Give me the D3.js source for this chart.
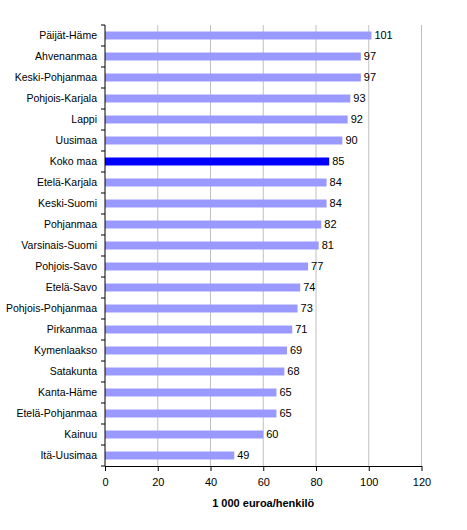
<!DOCTYPE html>
<html>
<head>
<meta charset="utf-8">
<script src="https://cdn.jsdelivr.net/npm/d3@7"></script>
<style>
  body { margin: 0; background: #fff; }
  text { font-family: Arial, "Liberation Sans", sans-serif; }
</style>
</head>
<body>
<script>
// maakunnat, suurimmasta pienimpään
const regions = ['Päijät-Häme','Ahvenanmaa','Keski-Pohjanmaa','Pohjois-Karjala','Lappi','Uusimaa','Koko maa',
  'Etelä-Karjala','Keski-Suomi','Pohjanmaa','Varsinais-Suomi','Pohjois-Savo','Etelä-Savo','Pohjois-Pohjanmaa',
  'Pirkanmaa','Kymenlaakso','Satakunta','Kanta-Häme','Etelä-Pohjanmaa','Kainuu','Itä-Uusimaa'];
const values = [101,97,97,93,92,90,85,84,84,82,81,77,74,73,71,69,68,65,65,60,49];
const xTicks = [0,20,40,60,80,100,120];
const highlight = 'Koko maa';
const axisTitle = '1 000 euroa/henkilö';

const W = 467, H = 530;
const mLeft = 105, mRight = 421.5, mTop = 25, mBottom = 466;

const svg = d3.select('body').append('svg')
  .attr('width', W).attr('height', H);

const x = d3.scaleLinear().domain([0,120]).range([mLeft, mRight]);
const y = d3.scaleBand().domain(regions).range([mTop, mBottom]).paddingInner(0.62).paddingOuter(0.31);

// gridlines
svg.append('g').selectAll('line')
  .data(xTicks.slice(1))
  .join('line')
  .attr('x1', d => x(d)).attr('x2', d => x(d))
  .attr('y1', mTop).attr('y2', mBottom)
  .attr('stroke', '#c0c0c0').attr('stroke-width', 1);

// bars
svg.append('g').selectAll('rect')
  .data(regions)
  .join('rect')
  .attr('x', x(0))
  .attr('y', d => y(d))
  .attr('width', (d,i) => x(values[i]) - x(0))
  .attr('height', y.bandwidth())
  .attr('fill', d => d === highlight ? '#0000ff' : '#9999ff');

// value labels
svg.append('g').selectAll('text')
  .data(regions)
  .join('text')
  .attr('x', (d,i) => x(values[i]) + 3)
  .attr('y', d => y(d) + y.bandwidth()/2)
  .attr('dy', '0.36em')
  .attr('font-size', 11)
  .text((d,i) => values[i]);

// y axis: line, ticks between categories, labels
const step = (mBottom - mTop) / regions.length;
const ya = svg.append('g');
ya.append('line')
  .attr('x1', mLeft).attr('x2', mLeft).attr('y1', mTop).attr('y2', mBottom)
  .attr('stroke', '#000');
ya.selectAll('line.tick')
  .data(d3.range(regions.length + 1))
  .join('line').attr('class','tick')
  .attr('x1', mLeft - 4).attr('x2', mLeft)
  .attr('y1', i => mTop + i*step).attr('y2', i => mTop + i*step)
  .attr('stroke', '#000');
ya.selectAll('text')
  .data(regions)
  .join('text')
  .attr('x', mLeft - 8)
  .attr('y', d => y(d) + y.bandwidth()/2)
  .attr('dy', '0.36em')
  .attr('text-anchor', 'end')
  .attr('font-size', 10.5)
  .text(d => d);

// x axis
const xAxis = d3.axisBottom(x).tickValues(xTicks).tickSize(5).tickSizeOuter(0);
const xa = svg.append('g').attr('transform', `translate(0,${mBottom})`).call(xAxis);
xa.select('.domain').attr('stroke', '#000');
xa.selectAll('.tick line').attr('stroke', '#000');
xa.selectAll('.tick text')
  .attr('font-size', 11).attr('font-family', 'Arial, "Liberation Sans", sans-serif')
  .attr('fill', '#000').attr('dy', '1.05em');

svg.append('text')
  .attr('x', (mLeft + mRight)/2)
  .attr('y', 507)
  .attr('text-anchor', 'middle')
  .attr('font-size', 11)
  .attr('font-weight', 'bold')
  .text(axisTitle);
</script>
</body>
</html>
